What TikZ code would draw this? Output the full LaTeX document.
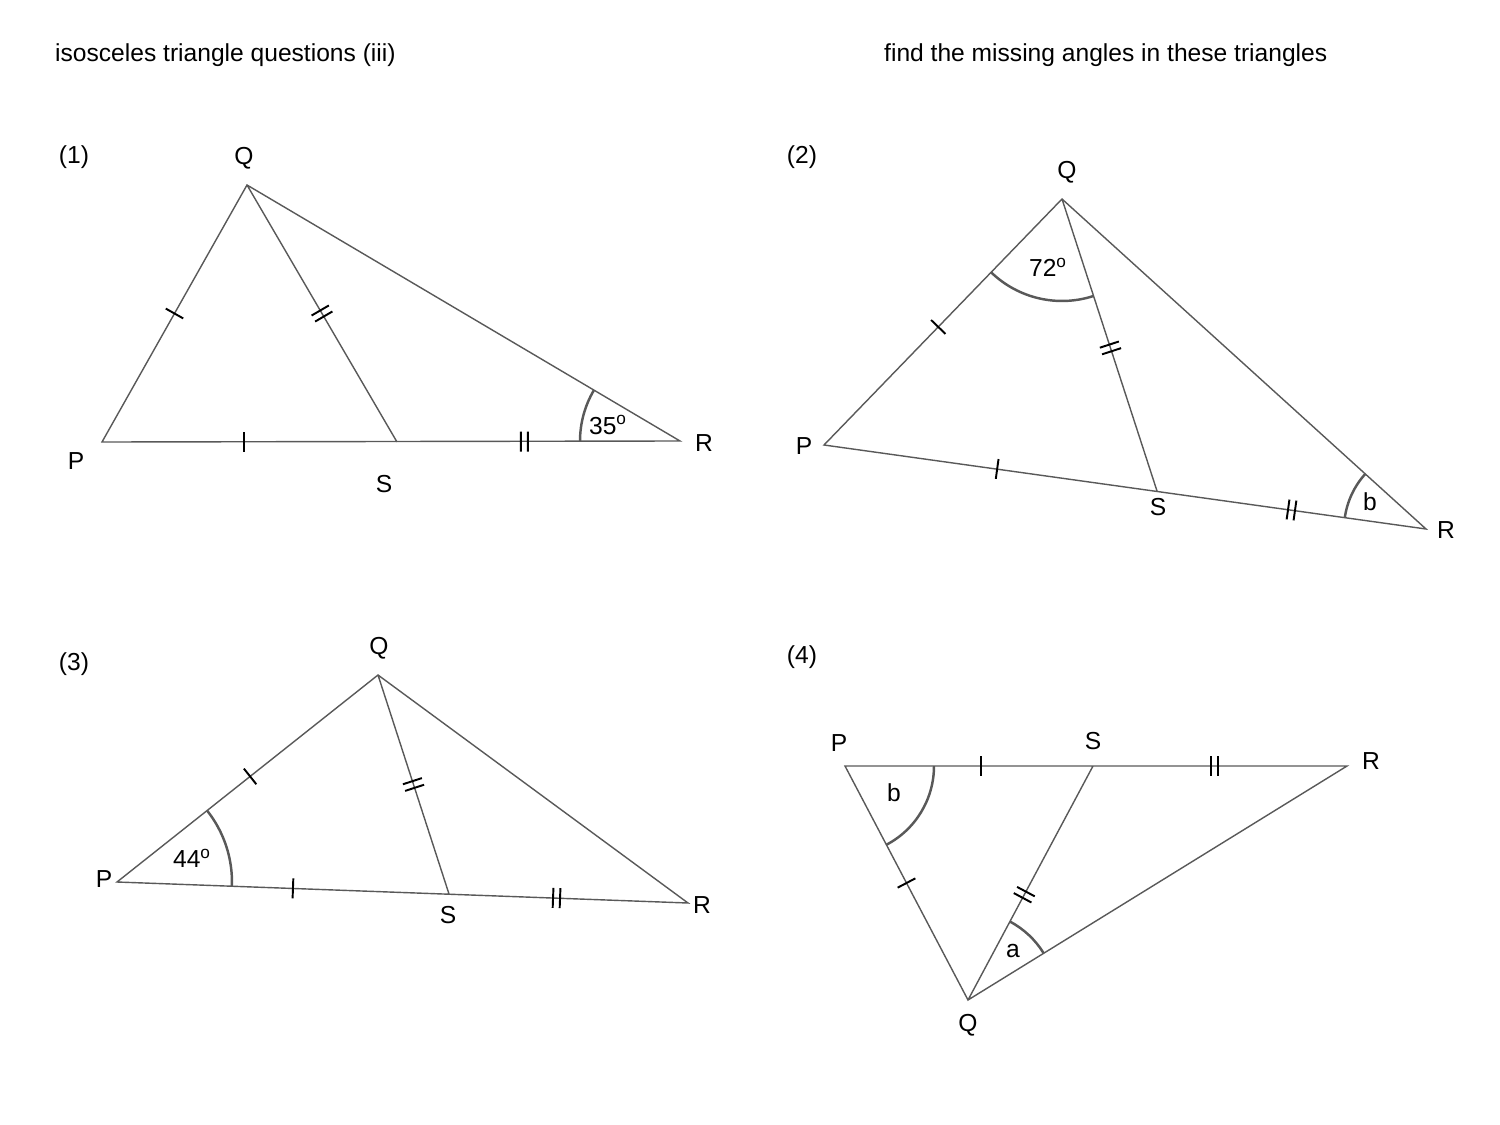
\documentclass[tikz,border=0pt]{standalone}
\usepackage{fontspec}
\setmainfont{Liberation Sans}
\usetikzlibrary{calc,angles}
\newcommand\stick[3]{\coordinate (m) at ($(#1)!#3!(#2)$);
 \draw[tk] ($(m)!0.2cm!90:(#2)$) -- ($(m)!0.2cm!-90:(#2)$);}
\newcommand\dtick[3]{\coordinate (m) at ($(#1)!#3!(#2)$);
 \coordinate (m1) at ($(m)!0.07cm!(#2)$); \coordinate (m2) at ($(m)!-0.07cm!(#2)$);
 \draw[tk] ($(m1)!0.2cm!90:(#2)$) -- ($(m1)!0.2cm!-90:(#2)$);
 \draw[tk] ($(m2)!0.2cm!90:(#2)$) -- ($(m2)!0.2cm!-90:(#2)$);}
\tikzset{ln/.style={draw=black!65,line width=0.8pt},
 tk/.style={draw=black,line width=1.1pt},
 arc/.style={draw=black!65,line width=1.4pt},
 lb/.style={font=\fontsize{14}{16}\selectfont}}
\begin{document}
\begin{tikzpicture}[x=0.02cm,y=-0.02cm]
\useasboundingbox (0,0) rectangle (1500,1125);
\node[lb,anchor=west] (t1) at (49,55) {isosceles triangle questions (iii)};
\node[lb,anchor=west] (t2) at (878,55) {find the missing angles in these triangles};
% 1
\node[lb] (n1) at (74,157) {(1)};
\coordinate (P) at (102,442); \coordinate (Q) at (247,185); \coordinate (R) at (680,441); \coordinate (S) at (397,442);
\draw[ln] (P)--(Q)--(R)--cycle (Q)--(S);
\stick{P}{Q}{0.5} \stick{P}{S}{0.48} \dtick{Q}{S}{0.5} \dtick{S}{R}{0.45}
\pic[arc,angle radius=2cm]{angle=Q--R--P};
\node[lb] (l1a) at (76,461) {P}; \node[lb] (l1b) at (244,158) {Q}; \node[lb] (l1c) at (704,443) {R}; \node[lb] (l1d) at (384,484) {S};
\node[lb] (l1e) at (608,425) {35\textsuperscript{o}};
% 2
\node[lb] (n2) at (802,157) {(2)};
\coordinate (P) at (824,445); \coordinate (Q) at (1062,199); \coordinate (R) at (1426,529); \coordinate (S) at (1157,491);
\draw[ln] (P)--(Q)--(R)--cycle (Q)--(S);
\stick{P}{Q}{0.48} \stick{P}{S}{0.52} \dtick{Q}{S}{0.51} \dtick{S}{R}{0.5}
\pic[arc,angle radius=2.04cm]{angle=P--Q--S};
\pic[arc,angle radius=1.64cm]{angle=Q--R--P};
\node[lb] (l2a) at (804,446) {P}; \node[lb] (l2b) at (1067,172) {Q}; \node[lb] (l2c) at (1446,530) {R}; \node[lb] (l2d) at (1158,507) {S};
\node[lb] (l2e) at (1048,267) {72\textsuperscript{o}}; \node[lb] (l2f) at (1370,502) {b};
% 3
\node[lb] (n3) at (74,664) {(3)};
\coordinate (P) at (117,882); \coordinate (Q) at (378,675); \coordinate (R) at (688,903); \coordinate (S) at (449,894);
\draw[ln] (P)--(Q)--(R)--cycle (Q)--(S);
\stick{P}{Q}{0.51} \stick{P}{S}{0.53} \dtick{Q}{S}{0.5} \dtick{S}{R}{0.45}
\pic[arc,angle radius=2.3cm]{angle=S--P--Q};
\node[lb] (l3a) at (104,879) {P}; \node[lb] (l3b) at (379,648) {Q}; \node[lb] (l3c) at (702,905) {R}; \node[lb] (l3d) at (448,915) {S};
\node[lb] (l3e) at (192,858) {44\textsuperscript{o}};
% 4
\node[lb] (n4) at (802,657) {(4)};
\coordinate (P) at (845,766); \coordinate (Q) at (968,1000); \coordinate (R) at (1347,766); \coordinate (S) at (1093,766);
\draw[ln] (P)--(Q)--(R)--cycle (Q)--(S);
\stick{P}{S}{0.55} \stick{P}{Q}{0.5} \dtick{Q}{S}{0.45} \dtick{S}{R}{0.48}
\pic[arc,angle radius=1.78cm]{angle=Q--P--S};
\pic[arc,angle radius=1.78cm]{angle=R--Q--S};
\node[lb] (l4a) at (839,743) {P}; \node[lb] (l4b) at (968,1025) {Q}; \node[lb] (l4c) at (1371,761) {R}; \node[lb] (l4d) at (1093,741) {S};
\node[lb] (l4e) at (894,793) {b}; \node[lb] (l4f) at (1013,951) {a};
\end{tikzpicture}
\end{document}
